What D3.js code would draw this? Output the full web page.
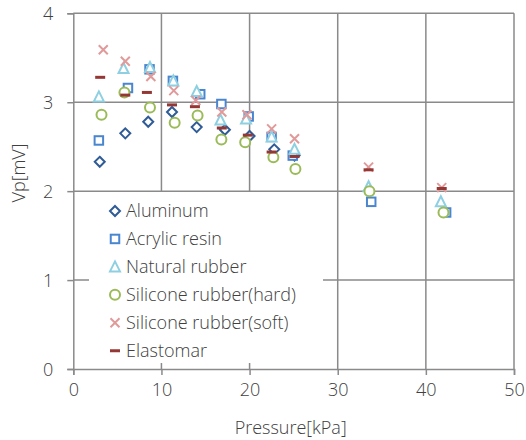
<!DOCTYPE html>
<html><head><meta charset="utf-8">
<script src="https://cdn.jsdelivr.net/npm/d3@7"></script>
<style>
body{margin:0;background:#fff;}
text{font-family:"Open Sans",sans-serif;fill:#404040;font-weight:300;}
</style></head>
<body>
<svg id="chart" width="526" height="440"></svg>
<script>
// ---- data ----
const seriesNames = ["Aluminum","Acrylic resin","Natural rubber","Silicone rubber(hard)","Silicone rubber(soft)","Elastomar"];
const aluminumX = [3.0, 5.9, 8.5, 11.2, 14.0, 17.2, 20.0, 22.8, 25.1];
const aluminumY = [2.33, 2.65, 2.78, 2.89, 2.72, 2.69, 2.62, 2.47, 2.40];
const acrylicX = [2.9, 6.2, 8.65, 11.3, 14.4, 16.8, 19.9, 22.5, 24.9, 33.8, 42.3];
const acrylicY = [2.57, 3.16, 3.37, 3.24, 3.09, 2.98, 2.84, 2.61, 2.40, 1.88, 1.76];
const naturalX = [2.9, 5.7, 8.7, 11.35, 14.0, 16.7, 19.6, 22.5, 25.1, 33.5, 41.7];
const naturalY = [3.06, 3.38, 3.39, 3.24, 3.12, 2.80, 2.81, 2.61, 2.47, 2.05, 1.88];
const hardX = [3.2, 5.8, 8.7, 11.5, 14.1, 16.8, 19.5, 22.7, 25.2, 33.6, 42.0];
const hardY = [2.86, 3.11, 2.94, 2.77, 2.85, 2.58, 2.55, 2.38, 2.25, 2.00, 1.76];
const softX = [3.4, 5.9, 8.8, 11.4, 13.9, 16.85, 19.7, 22.5, 25.1, 33.5, 41.8];
const softY = [3.59, 3.46, 3.29, 3.13, 3.02, 2.89, 2.86, 2.70, 2.59, 2.27, 2.04];
const elastX = [3.05, 5.9, 8.35, 11.2, 13.8, 16.85, 19.8, 22.5, 25.1, 33.5, 41.8];
const elastY = [3.28, 3.08, 3.11, 2.97, 2.95, 2.71, 2.63, 2.44, 2.39, 2.24, 2.03];
const xTicks = [0, 10, 20, 30, 40, 50];
const yTicks = [0, 1, 2, 3, 4];
const xTitle = "Pressure[kPa]";
const yTitle = "Vp[mV]";

const seriesData = [
  {name: seriesNames[0], xs: aluminumX, ys: aluminumY, shape: "diamond", color: "#2F5B97"},
  {name: seriesNames[1], xs: acrylicX, ys: acrylicY, shape: "square", color: "#4A86D0"},
  {name: seriesNames[2], xs: naturalX, ys: naturalY, shape: "triangle", color: "#8ED0E2"},
  {name: seriesNames[3], xs: hardX, ys: hardY, shape: "circle", color: "#9BBB59"},
  {name: seriesNames[4], xs: softX, ys: softY, shape: "cross", color: "#E09A9A"},
  {name: seriesNames[5], xs: elastX, ys: elastY, shape: "dash", color: "#953735"}
];

// ---- layout ----
const svg = d3.select("#chart");
const pLeft = 73.3, pRight = 514, pTop = 13.3, pBottom = 369;
const x = d3.scaleLinear().domain([0, 50]).range([pLeft, pRight]);
const y = d3.scaleLinear().domain([0, 4]).range([pBottom, pTop]);
const gridColor = "#8a8a8a";

// gridlines
svg.append("g").selectAll("line").data(xTicks.filter(d => d > 0)).join("line")
  .attr("x1", d => x(d)).attr("x2", d => x(d)).attr("y1", pTop).attr("y2", pBottom)
  .attr("stroke", gridColor).attr("stroke-width", 1.5);
svg.append("g").selectAll("line").data(yTicks.filter(d => d > 0)).join("line")
  .attr("x1", pLeft).attr("x2", pRight).attr("y1", d => y(d)).attr("y2", d => y(d))
  .attr("stroke", gridColor).attr("stroke-width", 1.5);

// axes
const xAxis = svg.append("g").attr("transform", `translate(0,${pBottom})`)
  .call(d3.axisBottom(x).tickValues(xTicks).tickFormat(d3.format("d")).tickSize(6).tickPadding(14));
const yAxis = svg.append("g").attr("transform", `translate(${pLeft},0)`)
  .call(d3.axisLeft(y).tickValues(yTicks).tickFormat(d3.format("d")).tickSize(6).tickPadding(14));
[xAxis, yAxis].forEach(a => {
  a.select(".domain").attr("stroke", gridColor).attr("stroke-width", 1.5);
  a.selectAll(".tick line").attr("stroke", gridColor).attr("stroke-width", 1.5);
  a.selectAll(".tick text").style("font-size", "18px").style("font-family", '"Open Sans",sans-serif')
    .style("font-weight", "300").attr("fill", "#404040");
});
yAxis.selectAll(".tick text").attr("x", -20).attr("dy", "0.36em");
xAxis.selectAll(".tick text").attr("y", 14).attr("dy", "0.71em");

// titles
svg.append("text").attr("x", (pLeft + pRight) / 2 - 3).attr("y", 434)
  .attr("text-anchor", "middle").style("font-size", "18px").text(xTitle);
svg.append("text").attr("transform", "translate(25,173) rotate(-90)")
  .attr("text-anchor", "middle").style("font-size", "18px").text(yTitle);

// marker drawing
function drawMarker(g, shape, color, cx, cy) {
  const sw = 2;
  if (shape === "diamond") {
    g.append("path").attr("d", `M${cx},${cy-5}L${cx+5},${cy}L${cx},${cy+5}L${cx-5},${cy}Z`)
      .attr("fill", "#fff").attr("stroke", color).attr("stroke-width", sw);
  } else if (shape === "square") {
    g.append("rect").attr("x", cx-4.25).attr("y", cy-4.25).attr("width", 8.5).attr("height", 8.5)
      .attr("fill", "#fff").attr("stroke", color).attr("stroke-width", sw);
  } else if (shape === "triangle") {
    g.append("path").attr("d", `M${cx},${cy-5.5}L${cx+5},${cy+4.5}L${cx-5},${cy+4.5}Z`)
      .attr("fill", "#fff").attr("stroke", color).attr("stroke-width", sw);
  } else if (shape === "circle") {
    g.append("circle").attr("cx", cx).attr("cy", cy).attr("r", 5)
      .attr("fill", "#fff").attr("stroke", color).attr("stroke-width", sw);
  } else if (shape === "cross") {
    g.append("path").attr("d", `M${cx-4.5},${cy-4.5}L${cx+4.5},${cy+4.5}M${cx+4.5},${cy-4.5}L${cx-4.5},${cy+4.5}`)
      .attr("fill", "none").attr("stroke", color).attr("stroke-width", sw);
  } else if (shape === "dash") {
    g.append("path").attr("d", `M${cx-5},${cy}L${cx+5},${cy}`)
      .attr("fill", "none").attr("stroke", color).attr("stroke-width", 3);
  }
}

// points
const pts = svg.append("g");
seriesData.forEach(s => {
  const g = pts.append("g");
  s.xs.forEach((xv, i) => drawMarker(g, s.shape, s.color, x(xv), y(s.ys[i])));
});

// legend
const legX = 89, legY = 192, legW = 234, legH = 171;
const leg = svg.append("g");
leg.append("rect").attr("x", legX).attr("y", legY).attr("width", legW).attr("height", legH).attr("fill", "#fff");
seriesData.forEach((s, i) => {
  const cy = 211 + i * 27.95;
  drawMarker(leg, s.shape, s.color, 115, cy);
  leg.append("text").attr("x", 126).attr("y", cy).attr("dy", "0.36em")
    .style("font-size", "18px").text(s.name);
});
</script>
</body></html>
